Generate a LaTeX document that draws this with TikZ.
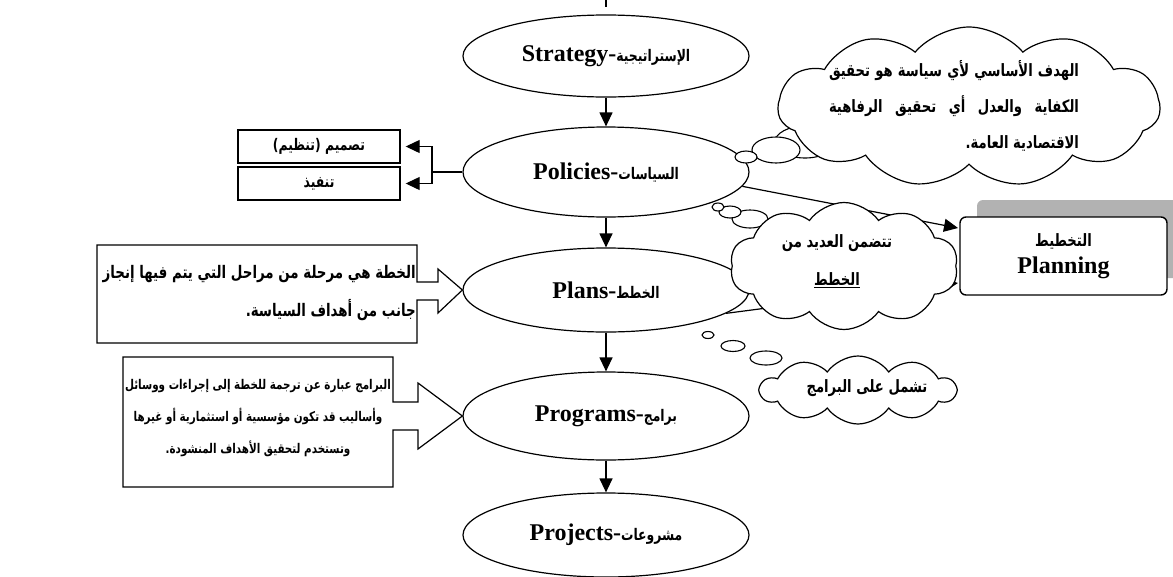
\documentclass[tikz,border=0pt]{standalone}
\usepackage{fontspec}
\setmainfont{Liberation Serif}
\newfontfamily\ar[Script=Arabic, FakeStretch=0.86]{DejaVu Sans Condensed}
\TeXXeTstate=1
\usetikzlibrary{shapes.geometric,shapes.symbols,arrows.meta}
\newcommand\rl[1]{\beginR#1\endR}
\newcommand\latl{\bfseries\fontsize{24}{28}\selectfont}
\newcommand\arl{\ar\bfseries\fontsize{16}{18}\selectfont}
\newcommand\elab[2]{{\latl #1-}{\arl #2}}
\begin{document}
\begin{tikzpicture}[x=1pt,y=-1pt,
  ell/.style={draw, ellipse, line width=1.2pt, minimum width=286pt, minimum height=84pt, inner sep=0pt},
  ln/.style={line width=1.2pt},
  arr/.style={line width=1.2pt, -{Triangle[length=14pt,width=13pt]}},
  bx/.style={draw, line width=1.4pt, minimum width=162pt, minimum height=33pt, inner sep=0pt},
  bub/.style={draw, ellipse, fill=white, line width=1.1pt, inner sep=0pt},
  cl/.style={draw, cloud, cloud ignores aspect, fill=white, line width=1.2pt, inner sep=0pt},
  txt/.style={inner sep=0pt}]
\useasboundingbox (0,0) rectangle (1173,576);

% main chain
\node[ell, minimum height=82pt] (strat) at (606,56) {\elab{Strategy}{الإستراتيجية}};
\node[ell, minimum height=90pt] (pol) at (606,172) {\elab{Policies}{السياسات}};
\node[ell] (plan) at (606,290) {\elab{Plans}{الخطط}};
\node[ell, minimum height=88pt] (prog) at (606,416) {\elab{Programs}{برامج}};
\node[ell] (proj) at (606,535) {\elab{Projects}{مشروعات}};

\coordinate (top) at (606,0);
\coordinate (topend) at (606,7);
\draw[ln] (top) -- (topend);
\draw[arr] (strat) -- (pol);
\draw[arr] (pol) -- (plan);
\draw[arr] (plan) -- (prog);
\draw[arr] (prog) -- (proj);

% policies side boxes
\node[bx] (b1) at (319,146.5) {\arl )\kern0pt تنظيم\kern0pt( تصميم};
\node[bx] (b2) at (319,183.5) {\arl تنفيذ};
\coordinate (pj) at (432,172);
\draw[ln] (pol.west) -- (pj);
\draw[arr] (pj) |- ([xshift=5pt]b1.east);
\draw[arr] (pj) |- ([xshift=5pt]b2.east);

% plans callout
\draw[ln] (417,282) -- (438,282) -- (438,269) -- (plan.west) -- (438,313) -- (438,300)
  -- (417,300) -- (417,343) -- (97,343) -- (97,245) -- (417,245) -- cycle;
\node[txt, anchor=east, align=right, font={\ar\bfseries\fontsize{17.3}{38}\selectfont}] (plt) at (416,293)
  {\rl{الخطة هي مرحلة من مراحل التي يتم فيها إنجاز}\\ .\rl{جانب من أهداف السياسة}};

% programs callout
\draw[ln] (393,402) -- (418,402) -- (418,383) -- (prog.west) -- (418,449) -- (418,430)
  -- (393,430) -- (393,487) -- (123,487) -- (123,357) -- (393,357) -- cycle;
\node[txt, align=center, font={\ar\bfseries\fontsize{13.4}{32}\selectfont}] (pgt) at (258,418)
  {\rl{البرامج عبارة عن ترجمة للخطة إلى إجراءات ووسائل}\\
   \rl{وأساليب قد تكون مؤسسية أو استثمارية أو غيرها}\\
   .\rl{وتستخدم لتحقيق الأهداف المنشودة}};

% planning box with shadow
\fill[black!30, rounded corners=6pt] (977,200) rectangle (1185,278);
\node[draw, fill=white, line width=1.4pt, rounded corners=6pt, minimum width=207pt, minimum height=78pt, inner sep=0pt, align=center] (pln) at (1063.5,256)
  {{\ar\bfseries\fontsize{17}{19}\selectfont التخطيط}\\[6pt]{\latl Planning}};
\coordinate (plnA) at (958,228);
\coordinate (plnB) at (958,283);
\draw[arr] (pol.-6) -- (plnA);
\draw[arr] (plan.-11) -- (plnB);

% cloud 1
\node[bub, minimum width=60pt, minimum height=32pt] (c1b3) at (805,142) {};
\node[bub, minimum width=48pt, minimum height=26pt] (c1b2) at (776,150) {};
\node[bub, minimum width=22pt, minimum height=12pt] (c1b1) at (746,157) {};
\node[cl, cloud puffs=11, cloud puff arc=100, shape border rotate=-5, minimum width=382pt, minimum height=160pt] (c1) at (969,107) {};
\node[txt, font={\ar\bfseries\fontsize{17}{36}\selectfont}, align=left] (c1t) at (954,106)
  {\hbox to 250pt{\rl{الهدف الأساسي لأي سياسة هو تحقيق}}\\
   \hbox to 250pt{\rl{الكفاية والعدل أي تحقيق الرفاهية}}\\
   \hbox to 250pt{\hfill.\rl{الاقتصادية العامة}}};

% cloud 2
\node[bub, minimum width=36pt, minimum height=18pt] (c2b3) at (750,219) {};
\node[bub, minimum width=22pt, minimum height=12pt] (c2b2) at (730,212) {};
\node[bub, minimum width=12pt, minimum height=8pt] (c2b1) at (718,207) {};
\node[cl, cloud puffs=10, cloud puff arc=110, minimum width=228pt, minimum height=127pt] (c2) at (844,266) {};
\node[txt, align=center, font={\ar\bfseries\fontsize{17}{38}\selectfont}] (c2t) at (837,261)
  {\rl{تتضمن العديد من}\\ \underline{الخطط}};

% cloud 3
\node[bub, minimum width=12pt, minimum height=7pt] (c3b1) at (708,335) {};
\node[bub, minimum width=24pt, minimum height=11pt] (c3b2) at (733,346) {};
\node[bub, minimum width=32pt, minimum height=14pt] (c3b3) at (766,358) {};
\node[cl, cloud puffs=10, cloud puff arc=110, minimum width=195pt, minimum height=68pt] (c3) at (858,390) {};
\node[txt, font={\ar\bfseries\fontsize{17}{19}\selectfont}] (c3t) at (867,388) {\rl{تشمل على البرامج}};
\end{tikzpicture}
\end{document}
